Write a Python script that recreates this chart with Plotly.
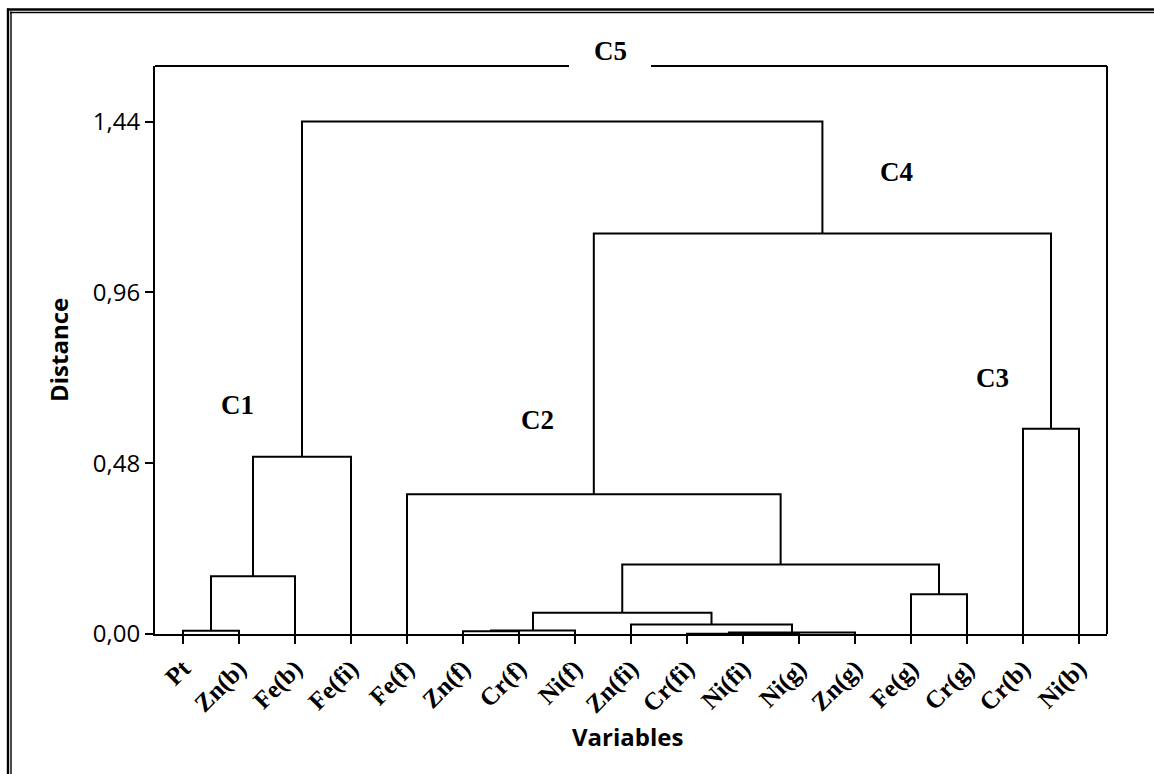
import plotly.graph_objects as go

# Variables in dendrogram order (left to right)
leaves = ["Pt", "Zn(b)", "Fe(b)", "Fe(fi)", "Fe(f)", "Zn(f)", "Cr(f)", "Ni(f)",
          "Zn(fi)", "Cr(fi)", "Ni(fi)", "Ni(g)", "Zn(g)", "Fe(g)", "Cr(g)",
          "Cr(b)", "Ni(b)"]

# Agglomeration steps: ids < 17 are leaves, id 17 + k is the cluster formed at step k
merge_left = [10, 9, 18, 5, 0, 20, 8, 22, 13, 21, 24, 4, 26, 15, 28, 29]
merge_right = [11, 17, 12, 6, 1, 7, 19, 23, 14, 2, 25, 27, 3, 16, 30, 31]
merge_height = [0.0003, 0.0008, 0.004, 0.0075, 0.009, 0.010, 0.027, 0.060,
                0.112, 0.162, 0.195, 0.393, 0.498, 0.577, 1.125, 1.440]

y_tickvals = [0.0, 0.48, 0.96, 1.44]
y_ticktext = ["0,00", "0,48", "0,96", "1,44"]

cluster_labels = ["C1", "C2", "C3", "C4"]
cluster_label_x = [1.98, 7.33, 15.46, 13.74]
cluster_label_y = [0.644, 0.602, 0.720, 1.299]

Y_TOP = 1.596

# Build the dendrogram links
n = len(leaves)
pos = {i: i + 1 for i in range(n)}
hgt = {i: 0.0 for i in range(n)}
xs, ys = [], []
for k, (a, b, H) in enumerate(zip(merge_left, merge_right, merge_height)):
    xa, xb = pos[a], pos[b]
    xs += [xa, xa, xb, xb, None]
    ys += [hgt[a], H, H, hgt[b], None]
    pos[n + k] = (xa + xb) / 2
    hgt[n + k] = H

fig = go.Figure()
fig.add_trace(go.Scatter(x=xs, y=ys, mode="lines",
                         line=dict(color="black", width=2),
                         hoverinfo="skip", showlegend=False))

W, Hpx = 1154, 774
ml, mr, mt, mb = 155, 47, 66, 140
pw, ph = W - ml - mr, Hpx - mt - mb


def px(xp):
    return (xp - ml) / pw


def py(yp):
    return (Hpx - mb - yp) / ph


shapes = []
# cluster frame (C5): right side and broken top edge
gap_c, gap_half = px(610), 41 / pw
shapes.append(dict(type="line", xref="paper", yref="paper", x0=1, x1=1, y0=0, y1=1,
                   line=dict(color="black", width=2)))
shapes.append(dict(type="line", xref="paper", yref="paper", x0=0, x1=gap_c - gap_half,
                   y0=1, y1=1, line=dict(color="black", width=2)))
shapes.append(dict(type="line", xref="paper", yref="paper", x0=gap_c + gap_half, x1=1,
                   y0=1, y1=1, line=dict(color="black", width=2)))
# page border (double line)
for off, w in [(8, 2.4), (11, 1.4)]:
    shapes.append(dict(type="line", xref="paper", yref="paper",
                       x0=px(off - 1), x1=px(W + 5), y0=py(off + 1.5), y1=py(off + 1.5),
                       line=dict(color="black", width=w)))
    shapes.append(dict(type="line", xref="paper", yref="paper",
                       x0=px(off), x1=px(off), y0=py(off + 0.5), y1=py(Hpx + 5),
                       line=dict(color="black", width=w)))

annotations = []
serif_b = dict(family="Liberation Serif", size=27, color="black", weight="bold")
for t, x, y in zip(cluster_labels, cluster_label_x, cluster_label_y):
    annotations.append(dict(text=t, x=x, y=y, xref="x", yref="y", showarrow=False,
                            font=serif_b, xanchor="center", yanchor="middle"))
annotations.append(dict(text="C5", x=gap_c, y=py(51), xref="paper", yref="paper",
                        showarrow=False, font=serif_b, xanchor="center", yanchor="middle"))
sans_b = dict(family="Open Sans", size=24, color="black", weight="bold")
annotations.append(dict(text="Distance", x=px(58), y=py(350), xref="paper", yref="paper",
                        showarrow=False, textangle=-90, font=sans_b,
                        xanchor="center", yanchor="middle"))
annotations.append(dict(text="Variables", x=px(628), y=py(736), xref="paper", yref="paper",
                        showarrow=False, font=sans_b, xanchor="center", yanchor="middle"))

fig.update_layout(
    width=W, height=Hpx,
    margin=dict(l=ml, r=mr, t=mt, b=mb, pad=0),
    paper_bgcolor="white", plot_bgcolor="white",
    shapes=shapes, annotations=annotations,
    xaxis=dict(range=[0.5, n + 0.5], tickvals=list(range(1, n + 1)), ticktext=leaves,
               tickangle=-45, ticks="outside", ticklen=8, tickwidth=2, tickcolor="black",
               tickfont=dict(family="Liberation Serif", size=25, color="black", weight="bold"),
               showline=True, linecolor="black", linewidth=2, showgrid=False, zeroline=False),
    yaxis=dict(range=[0, Y_TOP], tickvals=y_tickvals, ticktext=y_ticktext,
               ticks="outside", ticklen=8, tickwidth=2, tickcolor="black",
               tickfont=dict(family="Open Sans", size=24, color="black"),
               showline=True, linecolor="black", linewidth=2, showgrid=False, zeroline=False),
)

fig.write_html("out.html")
